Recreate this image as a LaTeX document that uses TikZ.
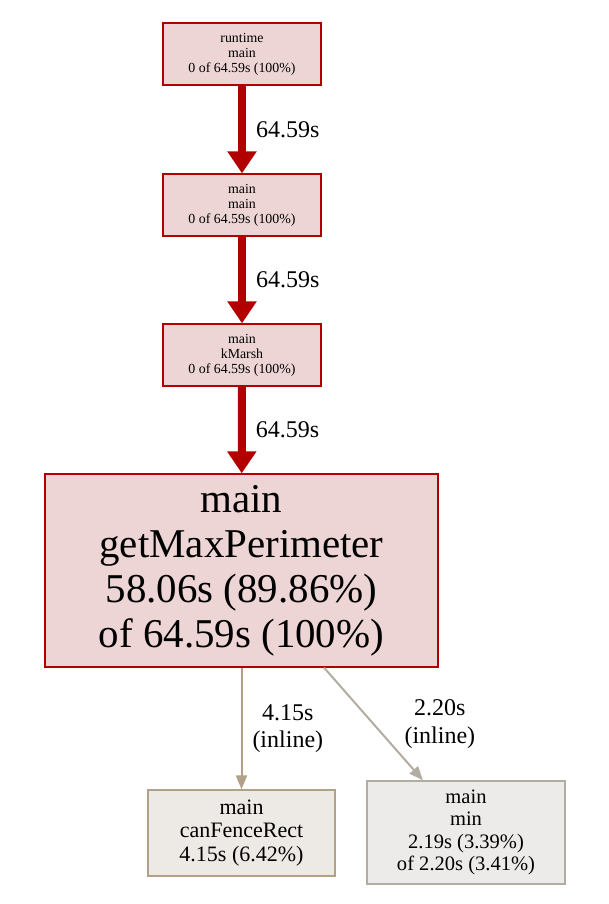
\documentclass[tikz,border=0pt]{standalone}
\usepackage{fontspec}
\setmainfont{Liberation Serif}
\usepackage{tikz}
\usetikzlibrary{arrows.meta}

\definecolor{hotfill}{HTML}{EDD5D5}
\definecolor{hotline}{HTML}{B20000}
\definecolor{cfrfill}{HTML}{EDE9E5}
\definecolor{cfrline}{HTML}{B2A089}
\definecolor{minfill}{HTML}{EDEBE9}
\definecolor{minline}{HTML}{B2ADA2}

\begin{document}
\begin{tikzpicture}[x=0.75pt,y=-0.75pt,auto]

  \tikzstyle{fn}=[rectangle,draw,align=center,inner sep=0pt,line width=1pt]
  \tikzstyle{small}=[fn,draw=hotline,fill=hotfill,minimum width=118.5pt,minimum height=46.5pt,
                     font=\fontsize{10.4}{11.25}\selectfont]
  \tikzstyle{hot}=[draw=hotline,line width=6pt,-{Triangle[length=16.5pt,width=21pt]}]
  \tikzstyle{cold}=[line width=1.5pt,-{Triangle[length=10.5pt,width=8.25pt]}]
  \tikzstyle{lbl}=[font=\fontsize{18}{20.5}\selectfont,inner sep=0pt,right=7.5pt,align=center,text=black]

  \useasboundingbox (0,0) rectangle (609,904);

  \node[small] (RTM) at (242,54)  {runtime \\ main \\ 0 of 64.59s (100\%)};
  \node[small] (MM)  at (242,205) {main \\ main \\ 0 of 64.59s (100\%)};
  \node[small] (KM)  at (242,355) {main \\ kMarsh \\ 0 of 64.59s (100\%)};

  \node[fn,draw=hotline,fill=hotfill,minimum width=294.75pt,minimum height=144.75pt,
        font=\fontsize{30.7}{33.75}\selectfont]
        (GMP) at (241.5,570.5) {main \\ getMaxPerimeter \\ 58.06s (89.86\%) \\ of 64.59s (100\%)};

  \node[fn,draw=cfrline,fill=cfrfill,minimum width=140.25pt,minimum height=64.5pt,
        font=\fontsize{16.5}{17.6}\selectfont]
        (CFR) at (241.5,833) {main \\ canFenceRect \\ 4.15s (6.42\%)};
  \node[fn,draw=minline,fill=minfill,minimum width=148.5pt,minimum height=77.25pt,
        font=\fontsize{15.4}{16.9}\selectfont]
        (MIN) at (466,832.5) {main \\ min \\ 2.19s (3.39\%) \\ of 2.20s (3.41\%)};

  \path
  (RTM) edge [hot]              node [lbl] {64.59s} (MM)
  (MM)  edge [hot]              node [lbl] {64.59s} (KM)
  (KM)  edge [hot]              node [lbl] {64.59s} (GMP)

  (GMP) edge [cold,draw=cfrline] node [lbl] {4.15s \\ (inline)} (CFR)
  ([xshift=61.9pt]GMP.south) edge [cold,draw=minline]
                                node [lbl,xshift=15pt] {2.20s \\ (inline)} ([xshift=-32.25pt]MIN.north)
  ;
\end{tikzpicture}
\end{document}
